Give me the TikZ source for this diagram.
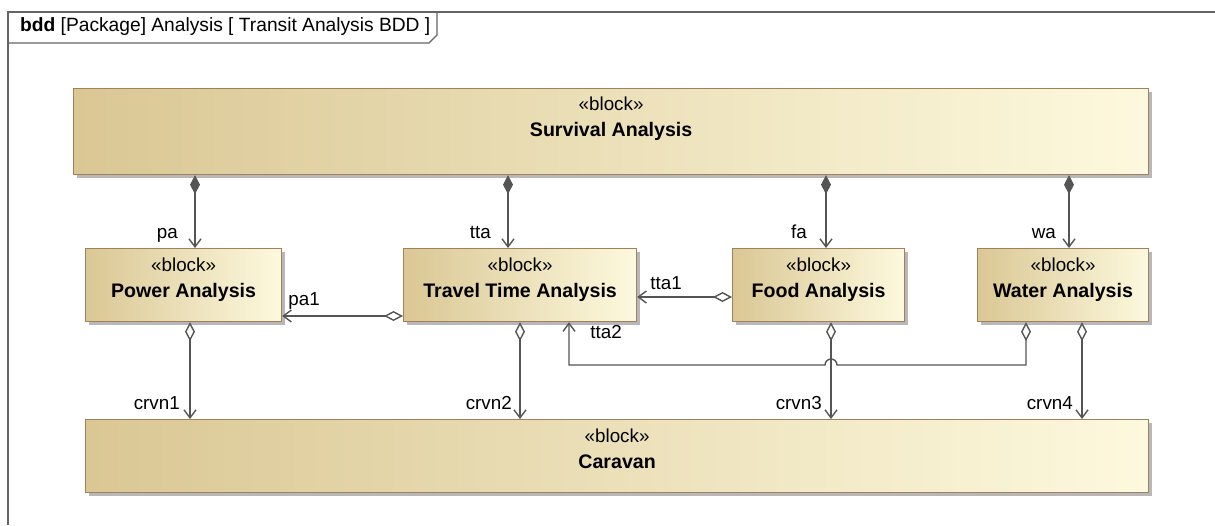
\documentclass[tikz,border=0pt]{standalone}
\usepackage{fontspec}
\setmainfont{Liberation Sans}
\usetikzlibrary{arrows.meta,shadows}
\definecolor{blockdark}{RGB}{218,199,148}
\definecolor{blocklight}{RGB}{253,249,222}
\definecolor{blockline}{RGB}{163,128,92}
\definecolor{connline}{RGB}{85,85,85}
\definecolor{framegray}{RGB}{100,100,100}

\begin{document}
\begin{tikzpicture}[x=1pt, y=-1pt,
    block/.style={draw=blockline, line width=1.2pt, left color=blockdark, right color=blocklight,
      anchor=north west, inner sep=0pt,
      drop shadow={shadow xshift=3pt, shadow yshift=-3pt, fill=black!28, opacity=1}},
    blocktext/.style={anchor=north, align=center, inner sep=0pt, font=\fontsize{18.8}{26}\selectfont},
    lbl/.style={anchor=base east, inner sep=0pt, font=\fontsize{18.8}{22}\selectfont},
    conn/.style={draw=connline, line width=1.4pt},
    comp/.style={conn, {Diamond[length=19pt,width=10pt]}-{Straight Barb[length=8pt,width=12pt]}},
    aggr/.style={conn, {Diamond[fill=white,length=19pt,width=10pt]}-{Straight Barb[length=8pt,width=12pt]}}]
    \useasboundingbox (0,0) rectangle (1215,525);

    % diagram frame
    \draw [framegray, line width=1.4pt] (8,525) -- (8,12) -- (1215,12);
    \draw [framegray, line width=1.4pt] (8,43) -- (429,43) -- (437,35) -- (437,12);
    \node [anchor=base west, inner sep=0pt, font=\fontsize{19.2}{22}\selectfont] (title) at (20,31)
      {\textbf{bdd} [Package] Analysis [ Transit Analysis BDD ]};

    % blocks
    \node [block, minimum width=1075pt, minimum height=86pt] (surv) at (73,88) {};
    \node [block, minimum width=196pt, minimum height=73pt] (pow) at (85,248) {};
    \node [block, minimum width=233pt, minimum height=73pt] (trav) at (403,248) {};
    \node [block, minimum width=172pt, minimum height=73pt] (food) at (732,248) {};
    \node [block, minimum width=171pt, minimum height=73pt] (water) at (977,248) {};
    \node [block, minimum width=1063pt, minimum height=73pt] (car) at (85,419) {};

    \node [blocktext] (surv-t) at ([yshift=-8.3pt]surv.north) {«block»\\{\fontsize{19.6}{27}\selectfont\bfseries Survival Analysis}};
    \node [blocktext] (pow-t) at ([yshift=-9.3pt]pow.north) {«block»\\{\fontsize{19.6}{26}\selectfont\bfseries Power Analysis}};
    \node [blocktext] (trav-t) at ([yshift=-9.3pt]trav.north) {«block»\\{\fontsize{19.6}{26}\selectfont\bfseries Travel Time Analysis}};
    \node [blocktext] (food-t) at ([yshift=-9.3pt]food.north) {«block»\\{\fontsize{19.6}{26}\selectfont\bfseries Food Analysis}};
    \node [blocktext] (water-t) at ([yshift=-9.3pt]water.north) {«block»\\{\fontsize{19.6}{26}\selectfont\bfseries Water Analysis}};
    \node [blocktext] (car-t) at ([yshift=-9.3pt]car.north) {«block»\\{\fontsize{19.6}{26}\selectfont\bfseries Caravan}};

    % composition
    \draw [comp] (surv.south -| 195,0) -- (pow.north -| 195,0);
    \draw [comp] (surv.south -| 508,0) -- (trav.north -| 508,0);
    \draw [comp] (surv.south -| 826,0) -- (food.north -| 826,0);
    \draw [comp] (surv.south -| 1069,0) -- (water.north -| 1069,0);

    % shared references
    \coordinate (hop) at (831,365);
    \draw [aggr] (trav.west |- 0,316) -- (pow.east |- 0,316);
    \draw [aggr] (food.west |- 0,297) -- (trav.east |- 0,297);
    \draw [aggr] (water.south -| 1026,0) |- ([xshift=6pt]hop)
      arc [start angle=0, end angle=180, radius=6pt] -| (trav.south -| 569,0);
    \draw [aggr] (pow.south -| 190,0) -- (car.north -| 190,0);
    \draw [aggr] (trav.south -| 520,0) -- (car.north -| 520,0);
    \draw [aggr] (food.south -| 831,0) -- (car.north -| 831,0);
    \draw [aggr] (water.south -| 1082,0) -- (car.north -| 1082,0);

    % role names
    \node [lbl] (pa-l) at (178,238) {pa};
    \node [lbl] (tta-l) at (491,238) {tta};
    \node [lbl] (fa-l) at (807,238) {fa};
    \node [lbl] (wa-l) at (1056,238) {wa};
    \node [lbl] (pa1-l) at (320,305) {pa1};
    \node [lbl] (tta1-l) at (682,289) {tta1};
    \node [lbl] (tta2-l) at (622,338) {tta2};
    \node [lbl] (crvn1-l) at (180,409) {crvn1};
    \node [lbl] (crvn2-l) at (512,409) {crvn2};
    \node [lbl] (crvn3-l) at (822,409) {crvn3};
    \node [lbl] (crvn4-l) at (1073,409) {crvn4};
  \end{tikzpicture}
\end{document}
